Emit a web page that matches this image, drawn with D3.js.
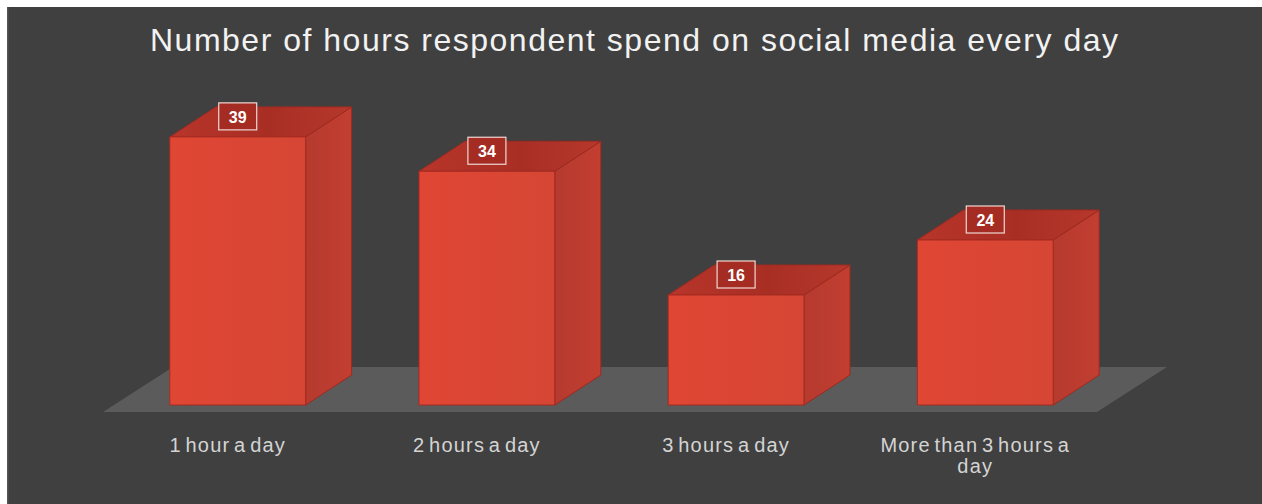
<!DOCTYPE html>
<html>
<head>
<meta charset="utf-8">
<script src="https://cdn.jsdelivr.net/npm/d3@7/dist/d3.min.js"></script>
<style>
  html, body { margin: 0; padding: 0; background: #ffffff; }
  svg { display: block; }
</style>
</head>
<body>
<svg id="chart" width="1262" height="504"></svg>
<script>
// Survey answers: daily time spent on social media
const categories = ["1 hour a day", "2 hours a day", "3 hours a day", "More than 3 hours a day"];
const respondents = [39, 34, 16, 24];
const chartTitle = "Number of hours respondent spend on social media every day";

const W = 1262, H = 504;
const svg = d3.select("#chart");

// panel background with the thin white margin on top and left
svg.append("rect").attr("x", 0).attr("y", 0).attr("width", W).attr("height", H).attr("fill", "#ffffff");
svg.append("rect").attr("x", 7).attr("y", 7).attr("width", W - 7).attr("height", H - 7).attr("fill", "#404040");
svg.append("rect").attr("x", 7).attr("y", 7).attr("width", 1.5).attr("height", H - 7).attr("fill", "#555555");

const defs = svg.append("defs");
const topGrad = defs.append("linearGradient").attr("id", "topGrad").attr("x1", "0").attr("x2", "1").attr("y1", "0").attr("y2", "0");
topGrad.append("stop").attr("offset", "0%").attr("stop-color", "#b8352a");
topGrad.append("stop").attr("offset", "55%").attr("stop-color", "#a82e24");
topGrad.append("stop").attr("offset", "100%").attr("stop-color", "#b7382c");
const frontGrad = defs.append("linearGradient").attr("id", "frontGrad").attr("x1", "0").attr("x2", "1").attr("y1", "0").attr("y2", "0");
frontGrad.append("stop").attr("offset", "0%").attr("stop-color", "#e04634");
frontGrad.append("stop").attr("offset", "100%").attr("stop-color", "#d64634");
const sideGrad = defs.append("linearGradient").attr("id", "sideGrad").attr("x1", "0").attr("x2", "1").attr("y1", "0").attr("y2", "0");
sideGrad.append("stop").attr("offset", "0%").attr("stop-color", "#b63a2e");
sideGrad.append("stop").attr("offset", "100%").attr("stop-color", "#c23e31");

// scales
const x = d3.scaleBand().domain(categories).range([113, 1110]).paddingInner(0.455).paddingOuter(0.228);
const y = d3.scaleLinear().domain([0, 40]).range([405, 130]);

// 3D depth offset for bars and floor
const depthX = 46, depthY = -30;

// title
svg.append("text")
  .attr("x", 150).attr("y", 51)
  .attr("font-family", "Liberation Sans, Arial, sans-serif")
  .attr("font-size", 32)
  .attr("textLength", 968)
  .attr("lengthAdjust", "spacing")
  .attr("fill", "#f2f2f2")
  .text(chartTitle);

// floor plane
const floorFrontY = 412, floorBackY = 367;
const floorLeft = 103, floorRight = 1097, floorShift = 70;
svg.append("path")
  .attr("d", `M${floorLeft},${floorFrontY} L${floorRight},${floorFrontY} L${floorRight + floorShift},${floorBackY} L${floorLeft + floorShift},${floorBackY} Z`)
  .attr("fill", "#5b5b5b");

// bars
const bars = svg.append("g").selectAll("g.bar")
  .data(categories.map((c, i) => ({ cat: c, value: respondents[i] })))
  .join("g").attr("class", "bar");

bars.each(function (d) {
  const g = d3.select(this);
  const x0 = x(d.cat), bw = x.bandwidth();
  const yTop = y(d.value), yBase = y(0);
  // side face
  g.append("path")
    .attr("d", `M${x0 + bw},${yTop} L${x0 + bw + depthX},${yTop + depthY} L${x0 + bw + depthX},${yBase + depthY} L${x0 + bw},${yBase} Z`)
    .attr("fill", "url(#sideGrad)").attr("stroke", "#9c2a20").attr("stroke-width", 1);
  // top face
  g.append("path")
    .attr("d", `M${x0},${yTop} L${x0 + depthX},${yTop + depthY} L${x0 + bw + depthX},${yTop + depthY} L${x0 + bw},${yTop} Z`)
    .attr("fill", "url(#topGrad)").attr("stroke", "#9c2a20").attr("stroke-width", 1);
  // front face
  g.append("rect")
    .attr("x", x0).attr("y", yTop).attr("width", bw).attr("height", yBase - yTop)
    .attr("fill", "url(#frontGrad)").attr("stroke", "#a52b20").attr("stroke-width", 1);
  // value label
  const cx = x0 + bw / 2, cy = yTop - 20;
  g.append("rect")
    .attr("x", cx - 19).attr("y", cy - 14).attr("width", 38).attr("height", 27)
    .attr("fill", "#a42c22").attr("stroke", "#f0d8d4").attr("stroke-width", 1.2);
  g.append("text")
    .attr("x", cx).attr("y", cy + 6)
    .attr("text-anchor", "middle")
    .attr("font-family", "Liberation Sans, Arial, sans-serif")
    .attr("font-weight", "bold").attr("font-size", 16)
    .attr("fill", "#ffffff")
    .text(d.value);
});

// category labels, wrapped when wider than the slot
const labelG = svg.append("g");
categories.forEach(c => {
  const cx = x(c) + x.bandwidth() / 2 - 10;
  const t = labelG.append("text")
    .attr("x", cx).attr("y", 452)
    .attr("text-anchor", "middle")
    .attr("font-family", "Liberation Sans, Arial, sans-serif")
    .attr("font-size", 20)
    .attr("letter-spacing", 1.2)
    .attr("word-spacing", -3)
    .attr("fill", "#d4d4d4");
  const words = c.split(" ");
  let line = [], tspan = t.append("tspan").attr("x", cx).attr("dy", 0);
  words.forEach(w => {
    line.push(w);
    tspan.text(line.join(" "));
    if (tspan.node().getComputedTextLength() > 212 && line.length > 1) {
      line.pop();
      tspan.text(line.join(" "));
      line = [w];
      tspan = t.append("tspan").attr("x", cx).attr("dy", 21).text(w);
    }
  });
});
</script>
</body>
</html>
